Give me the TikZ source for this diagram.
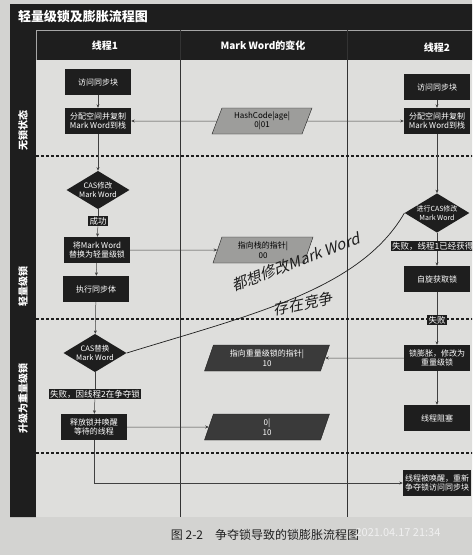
\documentclass[tikz,border=0pt]{standalone}
\usepackage{fontspec}
\setmainfont{Noto Sans CJK SC}
\newfontfamily\handfont[FakeSlant=0.25]{Noto Sans CJK SC}
\usepackage{xcolor}
\usepackage{tikz}
\usetikzlibrary{arrows.meta,shapes.geometric,positioning}

\definecolor{page}{HTML}{D3D3D1}
\definecolor{paper}{HTML}{DEDEDC}
\definecolor{ink}{HTML}{1E1E1E}
\definecolor{lightpar}{HTML}{9D9D9B}
\definecolor{darkpar}{HTML}{3A3A3A}

\tikzset{
  stepbox/.style={fill=ink,text=white,font=\fontsize{8}{9.5}\selectfont,align=center,
    minimum width=66pt,minimum height=26pt,inner sep=1pt},
  decide/.style={diamond,fill=ink,text=white,font=\fontsize{7.5}{9}\selectfont,align=center,
    aspect=1.65,inner sep=0pt},
  tag/.style={fill=ink,text=white,font=\fontsize{8.5}{9}\selectfont,inner sep=1.2pt},
  wordbox/.style={trapezium,trapezium left angle=64,trapezium right angle=116,
    trapezium stretches body,draw=ink,line width=.4pt,font=\fontsize{8}{9.5}\selectfont,
    align=center,minimum height=26pt,inner sep=1pt},
  lightword/.style={wordbox,fill=lightpar,text=black},
  darkword/.style={wordbox,fill=darkpar,text=white},
  flow/.style={-{Stealth[length=3.5pt,width=3pt]},ink!85,line width=.5pt},
  link/.style={ink!85,line width=.5pt},
  lane/.style={ink,line width=1.2pt,dash pattern=on 3pt off 2pt},
  head/.style={text=white,font=\bfseries\fontsize{10}{12}\selectfont},
  side/.style={text=white,font=\bfseries\fontsize{10}{12}\selectfont,rotate=90},
  hand/.style={text=ink,font=\handfont\fontsize{15}{15}\selectfont,inner sep=0pt}
}

\begin{document}
\begin{tikzpicture}[x=1pt,y=-1pt,>=Stealth]
\useasboundingbox (0,0) rectangle (472,555);
\clip (0,0) rectangle (472,555);
\fill[page] (0,0) rectangle (472,555);
\fill[ink] (10,4) rectangle (490,60) (10,60) rectangle (36,517);
\fill[paper] (36,60) rectangle (490,517);
\draw[gray!70,line width=.4pt] (36,30) -- (490,30) (36,30) -- (36,60);
\draw[gray!40!black,line width=.5pt] (180,30) -- (180,517) (347,30) -- (347,517);
\foreach \y in {156,319,453}
  \draw[lane] (36,\y) -- (490,\y);

% headings
\node[text=white,font=\bfseries\fontsize{13}{15}\selectfont] (title) at (83,17) {轻量级锁及膨胀流程图};
\node[head] (h1) at (105,46) {线程1};
\node[head] (h2) at (263,46) {Mark Word的变化};
\node[head] (h3) at (437,48) {线程2};
\node[side] (s1) at (23,130) {无锁状态};
\node[side] (s2) at (23,286) {轻量级锁};
\node[side] (s3) at (23,398) {升级为重量级锁};

% thread 1
\node[stepbox] (a1) at (98,82) {访问同步块};
\node[stepbox] (a2) at (98,121) {分配空间并复制\\Mark Word到栈};
\node[decide] (a3) at (98,190) {CAS修改\\Mark Word};
\node[tag] (ok) at (98,221) {成功};
\node[stepbox] (a4) at (97,250) {将Mark Word\\替换为轻量级锁};
\node[stepbox] (a5) at (96,289) {执行同步体};
\node[decide] (a6) at (95,353) {CAS替换\\Mark Word};
\node[tag] (f1) at (95,394) {失败，因线程2在争夺锁};
\node[stepbox] (a7) at (94,427) {释放锁并唤醒\\等待的线程};

% mark word
\node[lightword,minimum width=100pt] (m1) at (262,121) {HashCode|age|\\0|01};
\node[lightword,minimum width=100pt] (m2) at (263,250) {指向栈的指针|\\00};
\node[darkword,minimum width=125pt] (m3) at (267,358) {指向重量级锁的指针|\\10};
\node[darkword,minimum width=125pt] (m4) at (267,427) {0|\\10};

% thread 2
\node[stepbox] (b1) at (437,87) {访问同步块};
\node[stepbox] (b2) at (437,121) {分配空间并复制\\Mark Word到栈};
\node[decide,font=\fontsize{7}{8.5}\selectfont] (b3) at (437,213) {进行CAS修改\\Mark Word};
\node[tag] (f2) at (437,246) {失败，线程1已经获得锁};
\node[stepbox] (b4) at (437,279) {自旋获取锁};
\node[tag] (f3) at (437,320) {失败};
\node[stepbox] (b5) at (437,358) {锁膨胀，修改为\\重量级锁};
\node[stepbox] (b6) at (437,418) {线程阻塞};
\node[stepbox,minimum width=68pt] (b7) at (437,483) {线程被唤醒，重新\\争夺锁访问同步块};

\draw[flow] (a1) -- (a2);
\draw[flow] (a2) -- (a3);
\draw[link] (a3) -- (ok);
\draw[flow] (ok) -- (a4);
\draw[flow] (a4) -- (a5);
\draw[flow] (a5) -- (a6);
\draw[link] (a6) -- (f1);
\draw[flow] (f1) -- (a7);
\draw[flow] (m1) -- (a2);
\draw[flow] (m1) -- (b2);
\draw[flow] (a4) -- (m2);
\draw[flow] (b5) -- (m3);
\draw[flow] (a7) -- (m4);
\draw[flow] (a7) |- (b7);
\draw[flow] (b1) -- (b2);
\draw[flow] (b2) -- (b3);
\draw[link] (b3) -- (f2);
\draw[flow] (f2) -- (b4);
\draw[link] (b4) -- (f3);
\draw[flow] (f3) -- (b5);
\draw[flow] (b5) -- (b6);

% handwritten note
\draw[ink,line width=.7pt] (a6.east) .. controls (250,315) and (360,290) .. (b3.west);
\node[hand,rotate=21] (n1) at (296,262) {都想修改Mark Word};
\node[hand,rotate=12] (n2) at (303,304) {存在竞争};

% caption
\node[text=gray!25!black,font=\fontsize{12}{14}\selectfont] (cap) at (265,535) {图 2-2\quad 争夺锁导致的锁膨胀流程图};
\node[text=white!94!black,font=\fontsize{11}{12}\selectfont] (stamp) at (398,533) {2021.04.17 21:34};
\end{tikzpicture}
\end{document}
